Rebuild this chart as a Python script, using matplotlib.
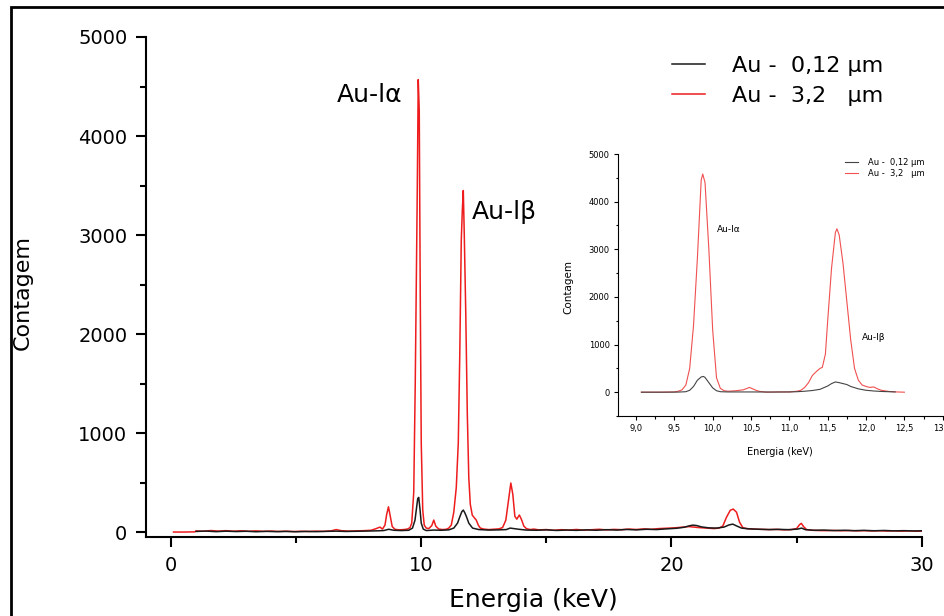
import matplotlib
matplotlib.use("Agg")
import matplotlib.pyplot as plt
from matplotlib.ticker import MultipleLocator, FuncFormatter
from matplotlib.patches import Rectangle

# main spectrum, 3.2 um film (red)
red_e = [0.10, 0.50, 0.95, 1.00, 1.30, 1.60, 1.90, 2.20, 2.50, 2.80,
         3.10, 3.40, 3.70, 4.00, 4.30, 4.60, 4.90, 5.20, 5.50, 5.80,
         6.10, 6.40, 6.60, 6.80, 7.10, 7.40, 7.70, 8.00, 8.20, 8.35,
         8.45, 8.55, 8.62, 8.69, 8.76, 8.84, 8.95, 9.10, 9.30, 9.45,
         9.55, 9.62, 9.70, 9.76, 9.84, 9.88, 9.92, 9.96, 10.00, 10.06,
         10.12, 10.20, 10.30, 10.42, 10.50, 10.58, 10.70, 10.85, 11.00, 11.10,
         11.20, 11.30, 11.40, 11.48, 11.54, 11.60, 11.64, 11.68, 11.72, 11.78,
         11.84, 11.90, 11.96, 12.04, 12.12, 12.20, 12.28, 12.36, 12.50, 12.70,
         12.90, 13.10, 13.25, 13.38, 13.50, 13.58, 13.66, 13.74, 13.82, 13.92,
         14.00, 14.10, 14.20, 14.35, 14.50, 14.70, 15.00, 15.30, 15.60, 15.90,
         16.20, 16.50, 16.80, 17.10, 17.40, 17.70, 18.00, 18.30, 18.60, 18.90,
         19.20, 19.50, 19.80, 20.10, 20.40, 20.70, 20.90, 21.10, 21.40, 21.70,
         21.90, 22.05, 22.20, 22.35, 22.47, 22.60, 22.72, 22.85, 23.00, 23.30,
         23.60, 23.90, 24.20, 24.50, 24.80, 25.00, 25.12, 25.19, 25.28, 25.40,
         25.60, 25.90, 26.20, 26.50, 26.80, 27.10, 27.40, 27.70, 28.00, 28.30,
         28.60, 28.90, 29.20, 29.50, 29.80, 30.05]
red_c = [0, 0, 2, 12, 8, 15, 10, 14, 9, 13,
         8, 12, 7, 10, 6, 9, 5, 8, 6, 9,
         7, 12, 25, 14, 10, 12, 14, 18, 35, 50,
         30, 70, 180, 255, 160, 55, 28, 22, 25, 30,
         45, 90, 400, 1500, 3420, 4570, 4260, 2400, 900, 220,
         70, 40, 35, 65, 121, 60, 30, 25, 28, 40,
         70, 200, 450, 900, 1800, 2950, 3240, 3450, 3000, 2200,
         1200, 550, 280, 170, 145, 120, 70, 40, 30, 25,
         28, 32, 45, 120, 350, 495, 380, 160, 130, 172,
         130, 60, 35, 25, 30, 22, 25, 18, 24, 20,
         26, 19, 23, 28, 22, 27, 24, 30, 26, 32,
         28, 35, 38, 42, 48, 55, 50, 45, 40, 35,
         40, 60, 150, 220, 232, 200, 100, 45, 35, 30,
         28, 25, 27, 22, 25, 35, 75, 88, 55, 25,
         18, 15, 14, 16, 13, 15, 12, 14, 11, 13,
         10, 12, 9, 11, 8, 10]

# main spectrum, 0.12 um film (black)
blk_e = [1.00, 1.40, 1.80, 2.20, 2.60, 3.00, 3.40, 3.80, 4.20, 4.60,
         5.00, 5.40, 5.80, 6.20, 6.60, 7.00, 7.40, 7.80, 8.20, 8.50,
         8.70, 8.90, 9.20, 9.50, 9.65, 9.75, 9.82, 9.86, 9.90, 9.95,
         10.00, 10.08, 10.20, 10.50, 10.80, 11.10, 11.30, 11.45, 11.55, 11.62,
         11.68, 11.74, 11.80, 11.90, 12.05, 12.30, 12.70, 13.10, 13.40, 13.55,
         13.70, 13.90, 14.20, 14.60, 15.00, 15.40, 15.80, 16.20, 16.60, 17.00,
         17.40, 17.80, 18.20, 18.60, 19.00, 19.40, 19.80, 20.20, 20.50, 20.70,
         20.85, 21.00, 21.20, 21.50, 21.80, 22.10, 22.30, 22.45, 22.60, 22.80,
         23.10, 23.50, 23.90, 24.30, 24.70, 25.05, 25.20, 25.35, 25.70, 26.10,
         26.50, 26.90, 27.30, 27.70, 28.10, 28.50, 28.90, 29.30, 29.70, 30.00]
blk_c = [6, 10, 4, 9, 5, 8, 3, 7, 4, 6,
         3, 6, 4, 7, 9, 6, 8, 10, 12, 15,
         28, 18, 15, 18, 40, 120, 260, 340, 350, 230,
         90, 30, 15, 20, 18, 22, 40, 90, 160, 205,
         222, 195, 160, 90, 40, 25, 20, 22, 25, 40,
         35, 28, 20, 18, 22, 16, 20, 17, 22, 18,
         24, 20, 26, 22, 28, 25, 32, 38, 48, 62,
         70, 66, 52, 42, 40, 50, 72, 80, 62, 40,
         32, 28, 25, 27, 24, 30, 40, 24, 18, 20,
         15, 18, 14, 17, 13, 16, 12, 14, 11, 13]

# inset (zoom on L lines)
in_red_e = [9.07, 9.20, 9.35, 9.50, 9.55, 9.60, 9.65, 9.70, 9.75, 9.80,
            9.85, 9.87, 9.90, 9.95, 10.00, 10.05, 10.10, 10.15, 10.20, 10.30,
            10.40, 10.48, 10.55, 10.60, 10.70, 10.85, 11.00, 11.10, 11.15, 11.20,
            11.25, 11.30, 11.35, 11.40, 11.43, 11.47, 11.50, 11.55, 11.60, 11.62,
            11.65, 11.70, 11.75, 11.80, 11.85, 11.90, 11.95, 12.00, 12.05, 12.10,
            12.15, 12.20, 12.30, 12.40, 12.50]
in_red_c = [0, 0, 0, 5, 20, 50, 150, 500, 1400, 2800,
            4450, 4580, 4400, 3000, 1300, 300, 80, 30, 20, 30,
            50, 100, 50, 20, 0, 5, 5, 20, 40, 100,
            200, 350, 430, 500, 520, 800, 1500, 2600, 3350, 3430,
            3300, 2700, 1900, 1100, 500, 250, 150, 120, 100, 110,
            70, 40, 15, 5, 0]
in_blk_e = [9.07, 9.30, 9.55, 9.65, 9.70, 9.75, 9.80, 9.85, 9.88, 9.90,
            9.95, 10.00, 10.05, 10.10, 10.20, 10.50, 10.80, 11.00, 11.10, 11.20,
            11.30, 11.40, 11.50, 11.55, 11.60, 11.65, 11.70, 11.75, 11.80, 11.90,
            12.00, 12.10, 12.20, 12.30, 12.38]
in_blk_c = [0, 0, 2, 10, 40, 120, 250, 320, 330, 310,
            200, 90, 30, 10, 5, 5, 3, 5, 10, 20,
            35, 60, 130, 180, 215, 200, 180, 160, 120, 70,
            40, 25, 15, 10, 5]

labels = ["Au -  0,12 \u03bcm", "Au -  3,2   \u03bcm"]

W, H = 944, 616
fig = plt.figure(figsize=(W / 100, H / 100), dpi=100)
fig.patch.set_facecolor("white")

# frame around the picture (only left/top visible)
fig.patches.append(Rectangle((11 / W, -0.2), 1.5, 1 - 7 / H + 0.2, fill=False,
                             lw=2, ec="black", transform=fig.transFigure))

# ---------- main axes
ax = fig.add_axes([146 / W, 1 - 537 / H, (921.7 - 146) / W, 500 / H])
ax.plot(red_e, red_c, color="#ee1c1c", lw=1.1)
ax.plot(blk_e, blk_c, color="#1a1a1a", lw=1.1)
ax.set_xlim(-1, 30)
ax.set_ylim(-50, 5000)
for s in ["top", "right"]:
    ax.spines[s].set_visible(False)
for s in ["left", "bottom"]:
    ax.spines[s].set_linewidth(1.5)
ax.xaxis.set_major_locator(MultipleLocator(10))
ax.xaxis.set_minor_locator(MultipleLocator(5))
ax.yaxis.set_major_locator(MultipleLocator(1000))
ax.yaxis.set_minor_locator(MultipleLocator(500))
ax.tick_params(which="major", direction="out", length=7.5, width=1.5, labelsize=14, pad=6)
ax.tick_params(which="minor", direction="out", length=4.5, width=1.5)
ax.set_xlabel("Energia (keV)", fontsize=18)
ax.xaxis.label.set_va("center")
ax.xaxis.set_label_coords(0.5, -0.126)
ax.set_ylabel("Contagem", fontsize=16)
ax.yaxis.label.set_va("center")
ax.yaxis.label.set_ha("center")
ax.yaxis.set_label_coords(-0.1586, 0.49)
ax.text(6.63, 4414, "Au-l\u03b1", fontsize=18, va="center", ha="left")
ax.text(12.03, 3235, "Au-l\u03b2", fontsize=18, va="center", ha="left")

h1, = ax.plot([], [], color="#1a1a1a", lw=1.1)
h2, = ax.plot([], [], color="#ee1c1c", lw=1.1)
fig.legend([h1, h2], labels, loc="center left", bbox_to_anchor=(672 / W, 1 - 81 / H),
           frameon=False, fontsize=16, handlelength=1.5, handletextpad=1.2,
           labelspacing=0.45, borderpad=0, borderaxespad=0)

# ---------- inset
ins = fig.add_axes([618 / W, 1 - 416 / H, (942.7 - 618) / W, 262 / H])
ins.patch.set_alpha(0)
ins.plot(in_red_e, in_red_c, color="#f05050", lw=0.8)
ins.plot(in_blk_e, in_blk_c, color="#444444", lw=0.8)
ins.set_xlim(8.765, 13.0)
ins.set_ylim(-500, 5000)
for s in ["top", "right"]:
    ins.spines[s].set_visible(False)
for s in ["left", "bottom"]:
    ins.spines[s].set_linewidth(0.8)
ins.xaxis.set_major_locator(MultipleLocator(0.5))
ins.xaxis.set_minor_locator(MultipleLocator(0.25))
ins.yaxis.set_major_locator(MultipleLocator(1000))
ins.yaxis.set_minor_locator(MultipleLocator(500))
ins.xaxis.set_major_formatter(FuncFormatter(lambda v, p: f"{v:.1f}".replace(".", ",")))
ins.tick_params(which="major", direction="out", length=3, width=0.8, labelsize=6, pad=3)
ins.tick_params(which="minor", direction="out", length=1.8, width=0.8)
ins.set_xlabel("Energia (keV)", fontsize=7)
ins.xaxis.label.set_va("center")
ins.xaxis.set_label_coords(0.499, -0.137)
ins.set_ylabel("Contagem", fontsize=7.5)
ins.yaxis.label.set_va("center")
ins.yaxis.label.set_ha("center")
ins.yaxis.set_label_coords(-0.154, 0.492)
ins.text(10.05, 3424, "Au-l\u03b1", fontsize=6.5, va="center", ha="left")
ins.text(11.94, 1155, "Au-l\u03b2", fontsize=6.5, va="center", ha="left")

g1, = ins.plot([], [], color="#444444", lw=0.8)
g2, = ins.plot([], [], color="#f05050", lw=0.8)
fig.legend([g1, g2], labels, loc="center left", bbox_to_anchor=(845 / W, 1 - 168 / H),
           frameon=False, fontsize=6, handlelength=1.6, handletextpad=1.2,
           labelspacing=0.15, borderpad=0, borderaxespad=0)

fig.savefig("out.png", dpi=100)
